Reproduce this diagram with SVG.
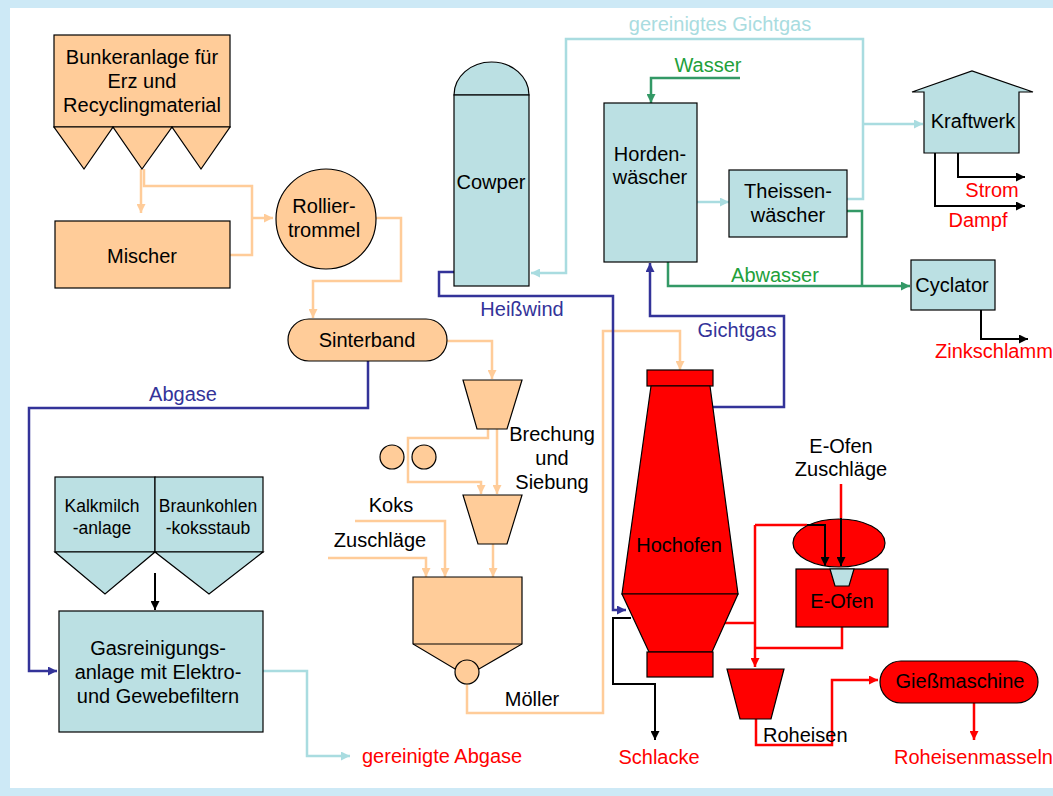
<svg xmlns="http://www.w3.org/2000/svg" width="1053" height="796" viewBox="0 0 1053 796">
<style>
text{font-family:"Liberation Sans",Arial,sans-serif;font-size:20px;fill:#000;text-anchor:middle}
.sm{font-size:17.5px}
.red{fill:#FF0000}
.blu{fill:#333399}
.grn{fill:#22A03A}
.lbt{fill:#A9DCE0}
.st{text-anchor:start}
.peach{fill:#FFCC99;stroke:#000;stroke-width:1.2}
.cyan{fill:#BBE0E3;stroke:#000;stroke-width:1.2}
.rf{fill:#FF0000;stroke:#000;stroke-width:1.2}
.lp{fill:none;stroke:#FFCC99;stroke-width:2.5}
.lb{fill:none;stroke:#333399;stroke-width:2.5}
.lc{fill:none;stroke:#A9DCE0;stroke-width:2.5}
.lg{fill:none;stroke:#339966;stroke-width:2.5}
.lk{fill:none;stroke:#000;stroke-width:2}
.lr{fill:none;stroke:#FF0000;stroke-width:2.5}
</style>
<defs>
<marker id="ap" viewBox="0 0 10 10" refX="10" refY="5" markerWidth="9" markerHeight="9" markerUnits="userSpaceOnUse" orient="auto"><path d="M0,0L10,5L0,10z" fill="#FFCC99"/></marker>
<marker id="ab" viewBox="0 0 10 10" refX="10" refY="5" markerWidth="9" markerHeight="9" markerUnits="userSpaceOnUse" orient="auto"><path d="M0,0L10,5L0,10z" fill="#333399"/></marker>
<marker id="ac" viewBox="0 0 10 10" refX="10" refY="5" markerWidth="9" markerHeight="9" markerUnits="userSpaceOnUse" orient="auto"><path d="M0,0L10,5L0,10z" fill="#A9DCE0"/></marker>
<marker id="ag" viewBox="0 0 10 10" refX="10" refY="5" markerWidth="9" markerHeight="9" markerUnits="userSpaceOnUse" orient="auto"><path d="M0,0L10,5L0,10z" fill="#339966"/></marker>
<marker id="ak" viewBox="0 0 10 10" refX="10" refY="5" markerWidth="9" markerHeight="9" markerUnits="userSpaceOnUse" orient="auto"><path d="M0,0L10,5L0,10z" fill="#000"/></marker>
<marker id="ar" viewBox="0 0 10 10" refX="10" refY="5" markerWidth="9" markerHeight="9" markerUnits="userSpaceOnUse" orient="auto"><path d="M0,0L10,5L0,10z" fill="#FF0000"/></marker>
</defs>
<rect x="0" y="0" width="1053" height="796" fill="#CDE9F6"/>
<rect x="10" y="8" width="1043" height="780" fill="#FFFFFF"/>

<g id="connectors">
<!-- peach -->
<path class="lp" d="M141,169V213" marker-end="url(#ap)"/>
<path class="lp" d="M144,169V186H252V255H230"/>
<path class="lp" d="M252,218H273" marker-end="url(#ap)"/>
<path class="lp" d="M376,218H401V281H313V318" marker-end="url(#ap)"/>
<path class="lp" d="M447,341H492V379" marker-end="url(#ap)"/>
<path class="lp" d="M488,429V438H408V482H481V494" marker-end="url(#ap)"/>
<path class="lp" d="M497,429V494" marker-end="url(#ap)"/>
<path class="lp" d="M493,544V577" marker-end="url(#ap)"/>
<path class="lp" d="M355,521H445V577" marker-end="url(#ap)"/>
<path class="lp" d="M328,558H426V577" marker-end="url(#ap)"/>
<path class="lp" d="M467,684V713H603V331H680V370" marker-end="url(#ap)"/>
<!-- blue -->
<path class="lb" d="M368,361V408H29V671H57" marker-end="url(#ab)"/>
<path class="lb" d="M454,272H439V296H613V610H626" marker-end="url(#ab)"/>
<path class="lb" d="M711,407H784V316H650V263" marker-end="url(#ab)"/>
<!-- light cyan -->
<path class="lc" d="M263,671H307V756H350" marker-end="url(#ac)"/>
<path class="lc" d="M847,199H863V39H566V273H531" marker-end="url(#ac)"/>
<path class="lc" d="M863,124H923" marker-end="url(#ac)"/>
<path class="lc" d="M697,202H729" marker-end="url(#ac)"/>
<!-- green -->
<path class="lg" d="M740,78H651V103" marker-end="url(#ag)"/>
<path class="lg" d="M668,262V286H910" marker-end="url(#ag)"/>
<path class="lg" d="M847,211H862V286"/>
<!-- black -->
<path class="lk" d="M958,153V177H1025" marker-end="url(#ak)"/>
<path class="lk" d="M935,153V206H1025" marker-end="url(#ak)"/>
<path class="lk" d="M981,310V339H1028" marker-end="url(#ak)"/>
<path class="lk" d="M155,573V610" marker-end="url(#ak)"/>
<path class="lk" d="M631,618H613V684H655V740" marker-end="url(#ak)"/>
<!-- red -->
<path class="lr" d="M723,623H755"/>
<path class="lr" d="M755,525V667" marker-end="url(#ar)"/>
<path class="lr" d="M755,525H807"/>
<path class="lr" d="M755,648H842V627"/>
<path class="lr" d="M841,484V518"/>
<path class="lr" d="M756,719V745H832V680H878" marker-end="url(#ar)"/>
<path class="lr" d="M974,703V740" marker-end="url(#ar)"/>
</g>

<g id="bunker">
<rect class="peach" x="54" y="35" width="176" height="92"/>
<polygon class="peach" points="54,127 113,127 84,169"/>
<polygon class="peach" points="113,127 172,127 142,169"/>
<polygon class="peach" points="172,127 230,127 201,169"/>
<text x="142" y="64">Bunkeranlage für</text>
<text x="142" y="88">Erz und</text>
<text x="142" y="112">Recyclingmaterial</text>
</g>

<g id="mischer">
<rect class="peach" x="55" y="221" width="175" height="67"/>
<text x="142" y="263">Mischer</text>
</g>

<g id="rolliertrommel">
<circle class="peach" cx="326" cy="219" r="50"/>
<text x="324" y="213">Rollier-</text>
<text x="324" y="237">trommel</text>
</g>

<g id="sinterband">
<rect class="peach" x="288" y="319" width="159" height="42" rx="21"/>
<text x="367" y="347">Sinterband</text>
</g>

<g id="brechung">
<polygon class="peach" points="463,380 522,380 507,429 477,429"/>
<circle class="peach" cx="392" cy="457" r="12"/>
<circle class="peach" cx="424" cy="457" r="12"/>
<polygon class="peach" points="463,495 522,495 507,544 478,544"/>
<text x="552" y="441">Brechung</text>
<text x="552" y="465">und</text>
<text x="552" y="489">Siebung</text>
</g>

<g id="moeller">
<polygon class="peach" points="413,577 522,577 522,644 479,669 455,669 413,644"/>
<line x1="413" y1="644" x2="522" y2="644" stroke="#000" stroke-width="1.2"/>
<circle class="peach" cx="467" cy="672" r="12"/>
<text x="391" y="512">Koks</text>
<text x="380" y="547">Zuschläge</text>
<text x="532" y="706">Möller</text>
</g>

<g id="abgase-label">
<text class="blu" x="183" y="401">Abgase</text>
</g>

<g id="gasreinigung">
<rect class="cyan" x="55" y="477" width="100" height="75"/>
<rect class="cyan" x="155" y="477" width="108" height="75"/>
<polygon class="cyan" points="55,552 155,552 105,594"/>
<polygon class="cyan" points="155,552 263,552 209,594"/>
<text class="sm" x="102" y="512">Kalkmilch</text>
<text class="sm" x="102" y="534">-anlage</text>
<text class="sm" x="208" y="512">Braunkohlen</text>
<text class="sm" x="208" y="534">-koksstaub</text>
<rect class="cyan" x="59" y="611" width="204" height="121"/>
<text x="158" y="655">Gasreinigungs-</text>
<text x="158" y="679">anlage mit Elektro-</text>
<text x="158" y="703">und Gewebefiltern</text>
<text class="red st" x="362" y="763">gereinigte Abgase</text>
</g>

<g id="cowper">
<path class="cyan" d="M454,95A37.5,33 0 0 1 529,95Z"/>
<rect class="cyan" x="454" y="95" width="75" height="191"/>
<text x="491" y="189">Cowper</text>
<text class="blu" x="522" y="316">Heißwind</text>
<text class="lbt" x="720" y="31">gereinigtes Gichtgas</text>
</g>

<g id="hordenwaescher">
<rect class="cyan" x="604" y="103" width="93" height="159"/>
<text x="650" y="161">Horden-</text>
<text x="650" y="184">wäscher</text>
<text class="grn" x="708" y="72">Wasser</text>
<text class="grn" x="775" y="282">Abwasser</text>
</g>

<g id="theissenwaescher">
<rect class="cyan" x="729" y="170" width="118" height="67"/>
<text x="788" y="198">Theissen-</text>
<text x="788" y="222">wäscher</text>
</g>

<g id="kraftwerk">
<polygon class="cyan" points="912,92 972,71 1033,92 1019,92 1019,153 924,153 924,92"/>
<text x="973" y="128">Kraftwerk</text>
<text class="red" x="992" y="197">Strom</text>
<text class="red" x="978" y="227">Dampf</text>
</g>

<g id="cyclator">
<rect class="cyan" x="911" y="260" width="84" height="50"/>
<text x="952" y="292">Cyclator</text>
<text class="red st" x="935" y="358">Zinkschlamm</text>
</g>

<g id="hochofen">
<rect class="rf" x="647" y="370" width="66" height="16"/>
<polygon class="rf" points="651,386 710,386 738,594 622,594"/>
<polygon class="rf" points="622,594 738,594 712,652 649,652"/>
<rect class="rf" x="647" y="652" width="66" height="25"/>
<text x="679" y="552">Hochofen</text>
<text class="blu" x="737" y="337">Gichtgas</text>
<text class="red" x="659" y="764">Schlacke</text>
</g>

<g id="eofen">
<ellipse class="rf" cx="839" cy="543" rx="46" ry="24"/>
<rect class="rf" x="796" y="569" width="92" height="58"/>
<polygon class="cyan" points="830,569 854,569 849,586 835,586"/>
<path class="lk" d="M807,525H825V566" marker-end="url(#ak)"/>
<path class="lk" d="M841,518V566" marker-end="url(#ak)"/>
<text x="842" y="608">E-Ofen</text>
<text x="841" y="453">E-Ofen</text>
<text x="841" y="476">Zuschläge</text>
</g>

<g id="roheisen">
<polygon class="rf" points="727,669 784,669 771,719 740,719"/>
<text class="st" x="763" y="742">Roheisen</text>
</g>

<g id="giessmaschine">
<rect class="rf" x="880" y="661" width="158" height="42" rx="21"/>
<text x="960" y="688">Gießmaschine</text>
<text class="red st" x="894" y="764">Roheisenmasseln</text>
</g>
</svg>
